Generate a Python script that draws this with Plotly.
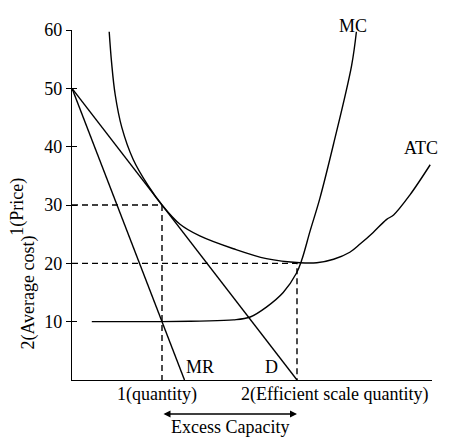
import plotly.graph_objects as go

# price / cost levels
price_ticks = [10, 20, 30, 40, 50, 60]

# demand and marginal revenue: straight lines from the intercept
d_x = [0, 37.5]
d_y = [50, 0]
mr_x = [0, 18.75]
mr_y = [50, 0]

# average total cost curve
atc_x = [6.2, 6.6, 7.2, 8.3, 10.2, 12.7, 15, 18, 21.3, 26.9, 32.4, 38, 40.8,
         43.6, 46.3, 48, 50.2, 52.4, 53.6, 56.3, 59.7]
atc_y = [59.7, 54.4, 48.9, 43.3, 37.8, 33.3, 30, 26.7, 24.7, 22.5, 20.8, 20.1,
         20.1, 20.7, 21.9, 23.3, 25.3, 27.5, 28.3, 31.7, 36.9]

# marginal cost curve
mc_x = [3.3, 15, 21.3, 26.9, 29.7, 32.4, 35.2, 37.4, 38.3, 39.7, 41.3, 43.6, 46.6, 47.4]
mc_y = [10, 10, 10.1, 10.3, 10.8, 12.5, 15, 18.3, 20.6, 25.6, 31.1, 40.5, 53.9, 59.7]

# monopoly quantity / price and efficient scale
q1, p1 = 15, 30
q2, p2 = 37.5, 20

FONT = "Liberation Serif"
line = dict(color="black", width=1.4)
dash = dict(color="black", width=1.4, dash="6px,4px")

fig = go.Figure()
fig.add_trace(go.Scatter(x=[0, q1, q1], y=[p1, p1, 0], mode="lines", line=dash))
fig.add_trace(go.Scatter(x=[0, q2, q2], y=[p2, p2, 0], mode="lines", line=dash))
fig.add_trace(go.Scatter(x=mr_x, y=mr_y, mode="lines", line=line))
fig.add_trace(go.Scatter(x=d_x, y=d_y, mode="lines", line=line, yaxis="y2"))
fig.add_trace(go.Scatter(x=atc_x, y=atc_y, mode="lines", line=line,
                         line_shape="spline"))
fig.add_trace(go.Scatter(x=mc_x, y=mc_y, mode="lines", line=line,
                         line_shape="spline"))

ann = []
def label(text, x, y, xref="x", yref="y", **kw):
    ann.append(dict(text=text, x=x, y=y, xref=xref, yref=yref, showarrow=False,
                    xanchor="center", yanchor="middle",
                    font=dict(family=FONT, size=18, color="black"), **kw))

# curve labels
label("MC", 46.8, 1.011, yref="paper")
label("ATC", 58.2, 39.7)
label("MR", 21.3, 2.2)
label("D", 33.3, 2.2)
# quantity labels under the axis (paper y, below the plot)
label("1(quantity)", 14.2, -0.042, yref="paper")
label("2(Efficient scale quantity)", 43.8, -0.042, yref="paper")
label("Excess Capacity", 26.3, -0.133, yref="paper")
# axis titles, two separate rotated lines
label("1(Price)", -0.15, 29.7, xref="paper", textangle=-90)
label("2(Average cost)", -0.122, 15, xref="paper", textangle=-90)

# double-headed arrow between the two quantities
ann.append(dict(x=q2, y=-0.097, ax=q1, ay=0, xref="x", yref="paper", axref="x",
                ayref="pixel", text="", showarrow=True, arrowhead=2,
                arrowside="end+start", arrowsize=1, arrowwidth=1.4,
                arrowcolor="black"))

# the page puts the plot 8px in from the top-left, so the size is trimmed
# to keep the page from scrolling
fig.update_layout(
    width=442, height=429,
    margin=dict(l=64, r=18, t=12, b=57),
    plot_bgcolor="white", paper_bgcolor="white",
    showlegend=False,
    font=dict(family=FONT, size=18, color="black"),
    xaxis=dict(range=[0, 60], showline=True, linecolor="black", linewidth=1.4,
               showgrid=False, zeroline=False, showticklabels=False, ticks=""),
    yaxis=dict(range=[0, 60], showline=True, linecolor="black", linewidth=1.4,
               showgrid=False, zeroline=False, tickvals=price_ticks,
               ticks="outside", ticklen=5, tickwidth=1.4, tickcolor="black",
               tickfont=dict(size=18)),
    yaxis2=dict(range=[0, 60], overlaying="y", side="left", showgrid=False,
                zeroline=False, showline=False, showticklabels=False,
                tickvals=price_ticks, ticks="inside", ticklen=5, tickwidth=1.4,
                tickcolor="black"),
    annotations=ann,
)

fig.write_html("out.html")
